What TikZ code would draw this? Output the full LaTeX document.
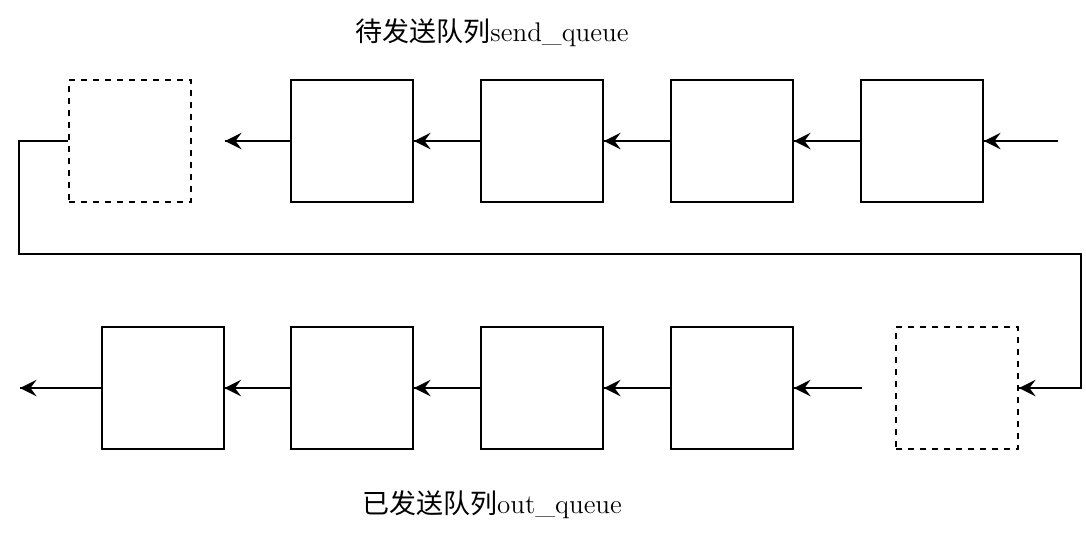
\documentclass[tikz,border=0pt]{standalone}
\usepackage{fontspec}
\newfontfamily\cjk{Noto Sans CJK SC}
\usepackage{tikz}
\usetikzlibrary{calc}
\usetikzlibrary{arrows,decorations.markings}

\begin{document}
\begin{tikzpicture}[x=0.5pt,y=-0.5pt,line width=1pt,
		pkt/.style={draw, minimum size=61pt, inner sep=0pt},
		slot/.style={draw, dashed, minimum size=61pt, inner sep=0pt},
		arr/.style={decoration={markings,mark=at position 1 with {\arrow[scale=1.8,>=stealth]{>}}},postaction={decorate}},
		lbl/.style={font=\fontsize{13.5pt}{16pt}\selectfont}]
			\useasboundingbox (0,0) rectangle (1086,537);

			% send_queue
			\node[slot] (s0) at (130,141) {};
			\node[pkt] (s1) at (352,141) {};
			\node[pkt] (s2) at ($(s1) + (190,0)$) {};
			\node[pkt] (s3) at ($(s2) + (190,0)$) {};
			\node[pkt] (s4) at ($(s3) + (190,0)$) {};
			\coordinate (sin) at (1058,141);
			\coordinate (sout) at (225,141);
			\node[lbl] (sq) at (492,33) {{\cjk 待发送队列}send\_queue};

			% out_queue
			\node[pkt] (o1) at (162.5,388) {};
			\node[pkt] (o2) at ($(o1) + (189.5,0)$) {};
			\node[pkt] (o3) at ($(o2) + (190,0)$) {};
			\node[pkt] (o4) at ($(o3) + (190,0)$) {};
			\node[slot] (o0) at (957,388) {};
			\coordinate (oin) at (862,388);
			\coordinate (oout) at (20,388);
			\node[lbl] (oq) at (492,505) {{\cjk 已发送队列}out\_queue};

			\draw[arr] (sin) -- (s4.east);
			\draw[arr] (s4.west) -- (s3.east);
			\draw[arr] (s3.west) -- (s2.east);
			\draw[arr] (s2.west) -- (s1.east);
			\draw[arr] (s1.west) -- (sout);

			\draw[arr] (s0.west) -- (19,141) -- (19,254) -- (1081,254) -- (1081,388) -- (o0.east);

			\draw[arr] (oin) -- (o4.east);
			\draw[arr] (o4.west) -- (o3.east);
			\draw[arr] (o3.west) -- (o2.east);
			\draw[arr] (o2.west) -- (o1.east);
			\draw[arr] (o1.west) -- (oout);

		\end{tikzpicture}
\end{document}
